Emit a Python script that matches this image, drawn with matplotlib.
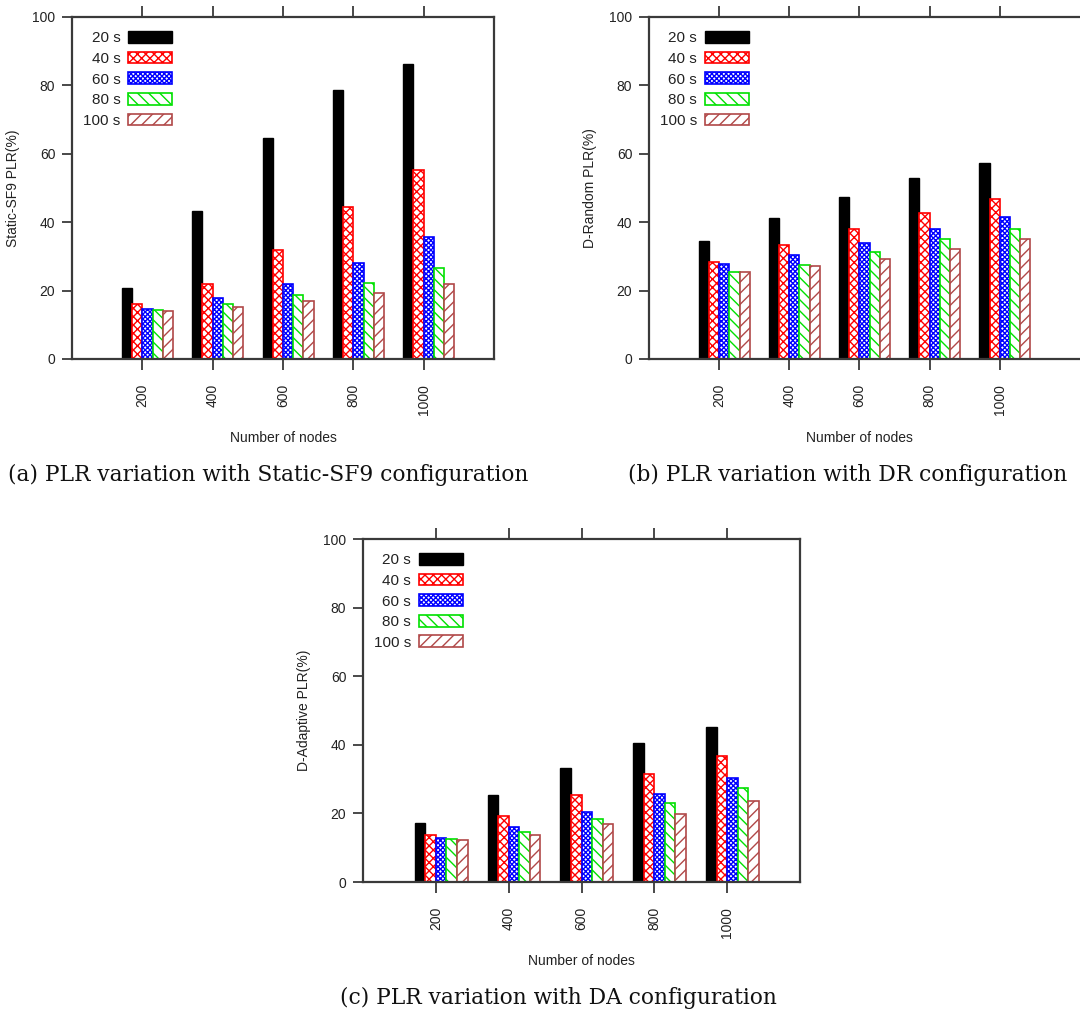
import numpy as np
import matplotlib
matplotlib.use("Agg")
import matplotlib.pyplot as plt

nodes = ["200", "400", "600", "800", "1000"]
series = ["20 s", "40 s", "60 s", "80 s", "100 s"]

# PLR (%) per refresh period, one list per period, across node counts
static_sf9 = [
    [20.9, 43.4, 64.7, 78.8, 86.2],
    [16.1, 21.8, 31.9, 44.3, 55.3],
    [14.7, 17.8, 22.0, 28.2, 35.7],
    [14.3, 16.0, 18.7, 22.2, 26.7],
    [14.1, 15.2, 16.9, 19.2, 22.0],
]
d_random = [
    [34.6, 41.3, 47.3, 52.9, 57.4],
    [28.3, 33.2, 38.1, 42.6, 46.9],
    [27.9, 30.3, 33.9, 37.9, 41.6],
    [25.5, 27.5, 31.4, 35.0, 38.1],
    [25.3, 27.2, 29.2, 32.3, 35.1],
]
d_adaptive = [
    [17.3, 25.5, 33.3, 40.4, 45.2],
    [13.7, 19.1, 25.3, 31.5, 36.8],
    [12.8, 16.0, 20.5, 25.8, 30.4],
    [12.5, 14.6, 18.5, 23.1, 27.4],
    [12.3, 13.8, 16.8, 19.9, 23.5],
]

colors = ["black", "#ff0000", "#0000ff", "#00e000", "#b04848"]
hatches = [None, "xxxx", "xxxxxxx", "\\\\\\", "///"]

plt.rcParams["font.family"] = ["Liberation Sans", "DejaVu Sans"]
plt.rcParams["hatch.linewidth"] = 1.0
AX_COL = "#3a3a3a"
TXT_COL = "#222222"


def draw_panel(ax, data, ylabel, xmax=6.0):
    x = np.arange(1, len(nodes) + 1)
    w = 0.145
    for i, vals in enumerate(data):
        if hatches[i] is None:
            ax.bar(x + (i - 2) * w, vals, w, align="edge", color=colors[i],
                   edgecolor=colors[i], label=series[i], linewidth=1.0)
        else:
            ax.bar(x + (i - 2) * w, vals, w, align="edge", facecolor="white",
                   edgecolor=colors[i], hatch=hatches[i], label=series[i],
                   linewidth=1.2)
    ax.set_xlim(0, xmax)
    ax.set_ylim(0, 100)
    ax.set_yticks(range(0, 101, 20))
    ax.set_xticks(x)
    ax.set_xticklabels(nodes, rotation=90)
    ax.tick_params(axis="x", direction="out", length=8, width=1.3, pad=10,
                   top=True, colors=AX_COL, labelcolor=TXT_COL, labelsize=10)
    ax.tick_params(axis="y", direction="out", length=7, width=1.3, pad=5,
                   right=False, colors=AX_COL, labelcolor=TXT_COL, labelsize=10)
    for sp in ax.spines.values():
        sp.set_color(AX_COL)
        sp.set_linewidth(1.6)
    ax.set_ylabel(ylabel, fontsize=10, color=TXT_COL, labelpad=9)
    ax.set_xlabel("Number of nodes", fontsize=10, color=TXT_COL)
    ax.xaxis.set_label_coords(3.0 / xmax, -0.21)
    ax.legend(loc="upper left", bbox_to_anchor=(-0.017, 1.012), frameon=False,
              markerfirst=False, fontsize=11, handlelength=2.9,
              handleheight=0.8, labelspacing=0.42, handletextpad=0.5,
              borderaxespad=0.8, labelcolor=TXT_COL)
    return ax


fig = plt.figure(figsize=(10.8, 10.13), dpi=100)
ax_a = fig.add_axes([72 / 1080, 1 - 359 / 1013, 422 / 1080, 342 / 1013])
ax_b = fig.add_axes([649 / 1080, 1 - 359 / 1013, 435 / 1080, 342 / 1013])
ax_c = fig.add_axes([363 / 1080, 1 - 882 / 1013, 437 / 1080, 343 / 1013])

draw_panel(ax_a, static_sf9, "Static-SF9 PLR(%)")
draw_panel(ax_b, d_random, "D-Random PLR(%)", xmax=6.2)
draw_panel(ax_c, d_adaptive, "D-Adaptive PLR(%)")

cap_kw = dict(fontsize=15.7, family="DejaVu Serif", ha="center", va="center",
              color="#111111")
fig.text(268 / 1080, 1 - 475 / 1013, "(a) PLR variation with Static-SF9 configuration", **cap_kw)
fig.text(848 / 1080, 1 - 475 / 1013, "(b) PLR variation with DR configuration", **cap_kw)
fig.text(558 / 1080, 1 - 998 / 1013, "(c) PLR variation with DA configuration", **cap_kw)

fig.savefig("out.png", dpi=100)
